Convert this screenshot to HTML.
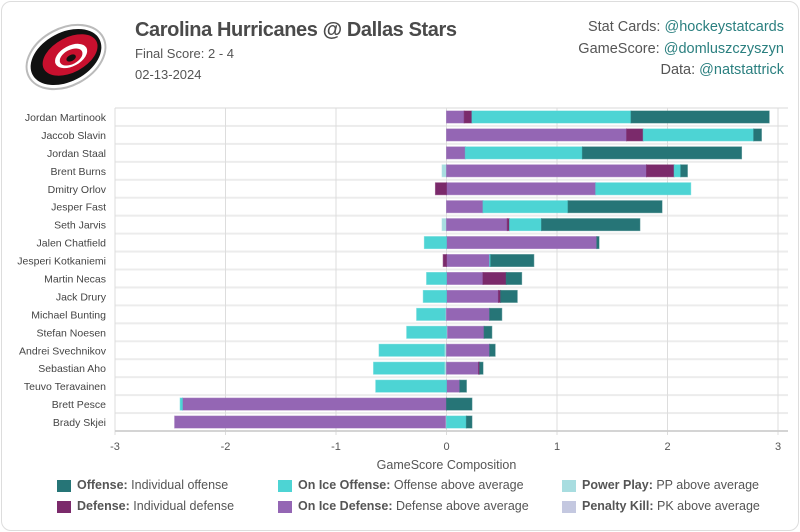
<!DOCTYPE html>
<html><head><meta charset="utf-8"><style>
body{margin:0;width:800px;height:532px;background:#fff;font-family:"Liberation Sans",sans-serif;overflow:hidden}
.card{position:absolute;left:1px;top:1px;width:796px;height:528px;border:1px solid #ddd;border-radius:10px;background:#fff}
.t{position:absolute;color:#555}
a{color:#2a7f7f;text-decoration:none}
.lg{position:absolute;font-size:12.5px;color:#555}
.sw{position:absolute;width:14px;height:12px}
</style></head><body>
<div class="card"></div>
<svg style="position:absolute;left:22px;top:23px" width="88" height="68" viewBox="0 0 86 66">
<ellipse cx="43" cy="33" rx="41" ry="28" fill="#fff" stroke="#bbb" stroke-width="2" transform="rotate(-28 43 33)"/>
<ellipse cx="43" cy="33" rx="37" ry="24" fill="#111" transform="rotate(-28 43 33)"/>
<ellipse cx="47" cy="31" rx="29" ry="17" fill="#c8102e" transform="rotate(-28 47 31)"/>
<ellipse cx="48" cy="32" rx="17" ry="10" fill="#fff" transform="rotate(-28 48 32)"/>
<ellipse cx="48" cy="33" rx="12" ry="7" fill="#c8102e" transform="rotate(-28 48 33)"/>
<ellipse cx="48" cy="34" rx="5" ry="3" fill="#111" transform="rotate(-28 48 34)"/>
</svg>
<div class="t" style="left:135px;top:19px;font-size:20px;font-weight:bold;color:#4a4a4a;letter-spacing:-0.4px">Carolina Hurricanes @ Dallas Stars</div>
<div class="t" style="left:135px;top:46px;font-size:13px">Final Score: 2 - 4</div>
<div class="t" style="left:135px;top:67px;font-size:13px">02-13-2024</div>
<div class="t" style="right:16px;top:17px;font-size:14.5px;text-align:right;line-height:21.5px">Stat Cards: <a>@hockeystatcards</a><br>GameScore: <a>@domluszczyszyn</a><br>Data: <a>@natstattrick</a></div>
<svg id="ch" style="position:absolute;left:0;top:0" width="800" height="532"></svg>
<div class="sw" style="left:57px;top:480px;background:#267577"></div>
<div class="lg" style="left:77px;top:478px"><b>Offense:</b> Individual offense</div>
<div class="sw" style="left:57px;top:501px;background:#7b2a6b"></div>
<div class="lg" style="left:77px;top:499px"><b>Defense:</b> Individual defense</div>
<div class="sw" style="left:278px;top:480px;background:#4dd4d4"></div>
<div class="lg" style="left:298px;top:478px"><b>On Ice Offense:</b> Offense above average</div>
<div class="sw" style="left:278px;top:501px;background:#9466b4"></div>
<div class="lg" style="left:298px;top:499px"><b>On Ice Defense:</b> Defense above average</div>
<div class="sw" style="left:562px;top:480px;background:#a8dde0"></div>
<div class="lg" style="left:582px;top:478px"><b>Power Play:</b> PP above average</div>
<div class="sw" style="left:562px;top:501px;background:#c4c8e0"></div>
<div class="lg" style="left:582px;top:499px"><b>Penalty Kill:</b> PK above average</div>
<script>
const players=["Jordan Martinook","Jaccob Slavin","Jordan Staal","Brent Burns","Dmitry Orlov","Jesper Fast","Seth Jarvis","Jalen Chatfield","Jesperi Kotkaniemi","Martin Necas","Jack Drury","Michael Bunting","Stefan Noesen","Andrei Svechnikov","Sebastian Aho","Teuvo Teravainen","Brett Pesce","Brady Skjei"];
const pk=[0,0,0,0,0,0,0,0,0,0,0,-0.01,0.01,0,0,0,0,-0.01];
const pp=[0,0,0,-0.04,0,0,-0.04,0,0,0,0,0,0,-0.02,-0.02,0,0,0];
const onIceDef=[0.16,1.63,0.17,1.81,1.35,0.33,0.55,1.36,0.39,0.33,0.47,0.39,0.33,0.39,0.29,0.12,-2.39,-2.45];
const defense=[0.07,0.15,0,0.25,-0.1,0,0.02,0,-0.03,0.21,0.02,0,0,0,0.01,0,0,0];
const onIceOff=[1.44,1.0,1.06,0.06,0.86,0.77,0.29,-0.2,0.01,-0.18,-0.21,-0.26,-0.36,-0.59,-0.64,-0.64,-0.02,0.18];
const offense=[1.25,0.07,1.44,0.06,0,0.85,0.89,0.02,0.39,0.14,0.15,0.11,0.07,0.05,0.03,0.06,0.23,0.05];
const ticks=[-3,-2,-1,0,1,2,3];
const series=[[pk,"#c4c8e0","pk"],[pp,"#a8dde0","pp"],[onIceDef,"#9466b4","onice-defense"],[defense,"#7b2a6b","defense"],[onIceOff,"#4dd4d4","onice-offense"],[offense,"#267577","offense"]];
const L=115,R=778,T=108,B=431;
const x=v=>L+(v+3)/6*(R-L);
const rh=(B-T)/players.length;
const y=i=>T+i*rh;
const svg=document.getElementById('ch');const NS="http://www.w3.org/2000/svg";
function mk(t,a){const e=document.createElementNS(NS,t);for(const k in a)e.setAttribute(k,a[k]);svg.appendChild(e);return e;}
for(let i=0;i<=players.length;i++){const l=mk('rect',{x:L,y:y(i)-1,width:R-L+10,height:2,fill:'#ececec'});

}
ticks.forEach(t=>{const g=mk('line',{x1:x(t),x2:x(t),y1:T,y2:B+4,stroke:'#ddd','stroke-width':1});


const tx=mk('text',{x:x(t),y:B+19,'text-anchor':'middle','font-size':11,fill:'#555','font-family':'Liberation Sans'});tx.textContent=t;

});
const ax=mk('line',{x1:L,x2:R+10,y1:B,y2:B,stroke:'#ccc','stroke-width':1.5});


players.forEach((p,i)=>{
 const tx=mk('text',{x:106,y:y(i)+rh/2+4,'text-anchor':'end','font-size':10.5,fill:'#444','font-family':'Liberation Sans'});tx.textContent=p;
 
 
 let pos=0,neg=0;
 series.forEach(([arr,col,nm])=>{const v=arr[i];if(!v)return;let a,b;
  if(v>0){a=pos;b=pos+v;pos=b;}else{b=neg;a=neg+v;neg=a;}
  const r=mk('rect',{x:x(a),y:y(i)+3,width:x(b)-x(a),height:rh-6,fill:col,stroke:col,'stroke-opacity':0.6});
  
  });
});
const at=mk('text',{x:x(0),y:469,'text-anchor':'middle','font-size':12.5,fill:'#555','font-family':'Liberation Sans'});at.textContent="GameScore Composition";


</script>
</body></html>
